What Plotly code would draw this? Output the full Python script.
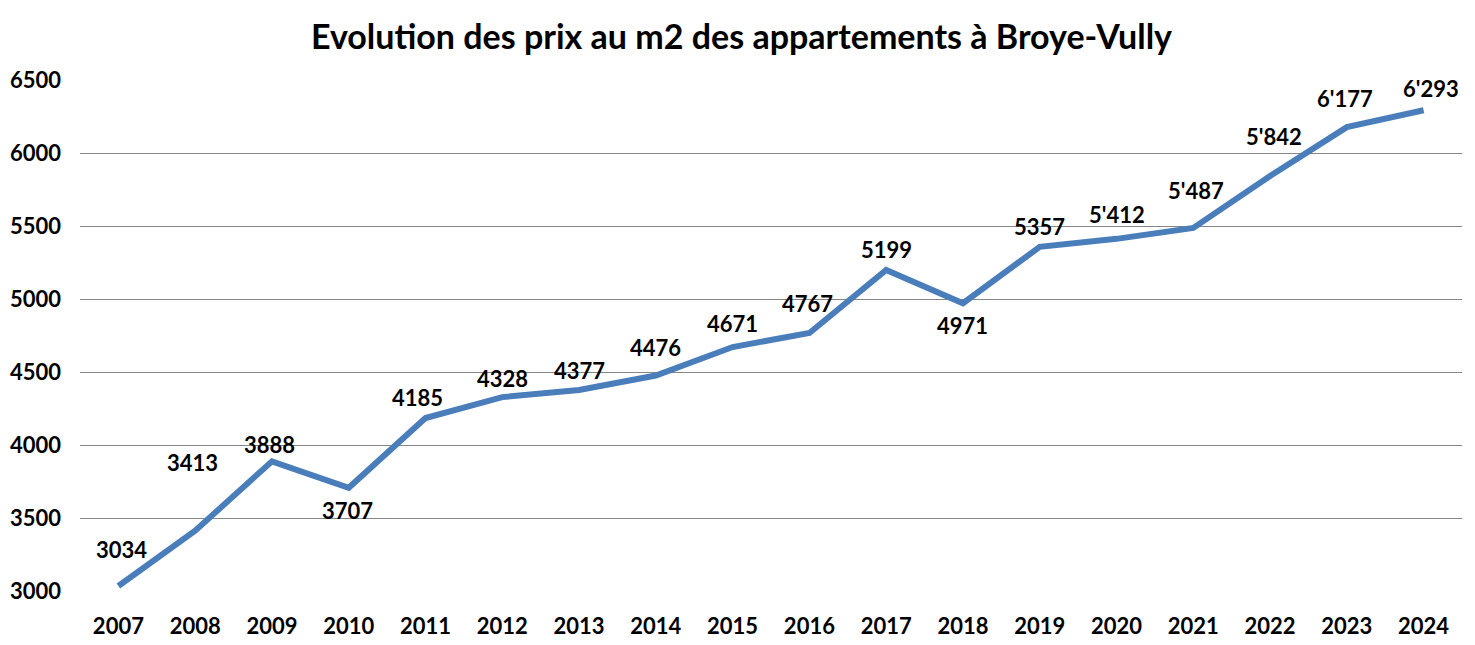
import plotly.graph_objects as go

years = [str(y) for y in range(2007, 2025)]
prices = [3034, 3413, 3888, 3707, 4185, 4328, 4377, 4476, 4671, 4767,
          5199, 4971, 5357, 5412, 5487, 5842, 6177, 6293]
labels = ["3034", "3413", "3888", "3707", "4185", "4328", "4377", "4476", "4671",
          "4767", "5199", "4971", "5357", "5'412", "5'487", "5'842", "6'177", "6'293"]
y_ticks = [3000, 3500, 4000, 4500, 5000, 5500, 6000, 6500]

# label placement offsets (styling only, in pixels)
label_dy = [37, 68, 17, -23, 20, 19, 19, 28, 24, 30, 20, -22, 20, 24, 37, 40, 29, 22]
label_dx = [3, -3, -2, -1, -8, 0, 0, 0, 0, -2, 0, 0, 0, 0, 3, 4, -2, 7]

FONT = "Lato, Liberation Sans, Arial, sans-serif"

fig = go.Figure()
fig.add_trace(go.Scatter(
    x=years, y=prices, mode="lines",
    line=dict(color="#4A7EBB", width=6),
    hoverinfo="x+y", showlegend=False,
))

annotations = []
for i, (y, t, dy, dx) in enumerate(zip(prices, labels, label_dy, label_dx)):
    annotations.append(dict(
        x=i, y=y, text="<b>" + t + "</b>", showarrow=False, xref="x", yref="y",
        yshift=dy, xshift=dx,
        font=dict(family=FONT, size=22, color="#000000"),
    ))

fig.update_layout(
    width=1467, height=637,
    margin=dict(l=72, r=13, t=72, b=54),
    paper_bgcolor="white", plot_bgcolor="white",
    title=dict(
        text="<b>Evolution des prix au m2 des appartements à Broye-Vully</b>",
        x=0.5, xanchor="center", y=1 - 29 / 637, yanchor="middle",
        font=dict(family=FONT, size=34, color="#000000"),
    ),
    xaxis=dict(
        type="category", range=[-0.5, 17.5],
        showgrid=False, showline=False, ticks="",
        tickfont=dict(family=FONT, size=22, color="#000000", weight="bold"),
        ticklabelstandoff=20, automargin=False,
        fixedrange=True,
    ),
    yaxis=dict(
        range=[3000, 6500], tickvals=y_ticks,
        showgrid=True, gridcolor="#868686", gridwidth=1,
        zeroline=False, showline=False, ticks="",
        tickfont=dict(family=FONT, size=22, color="#000000", weight="bold"),
        ticklabelstandoff=18, automargin=False,
    ),
    annotations=annotations,
)

fig.write_html("out.html")
